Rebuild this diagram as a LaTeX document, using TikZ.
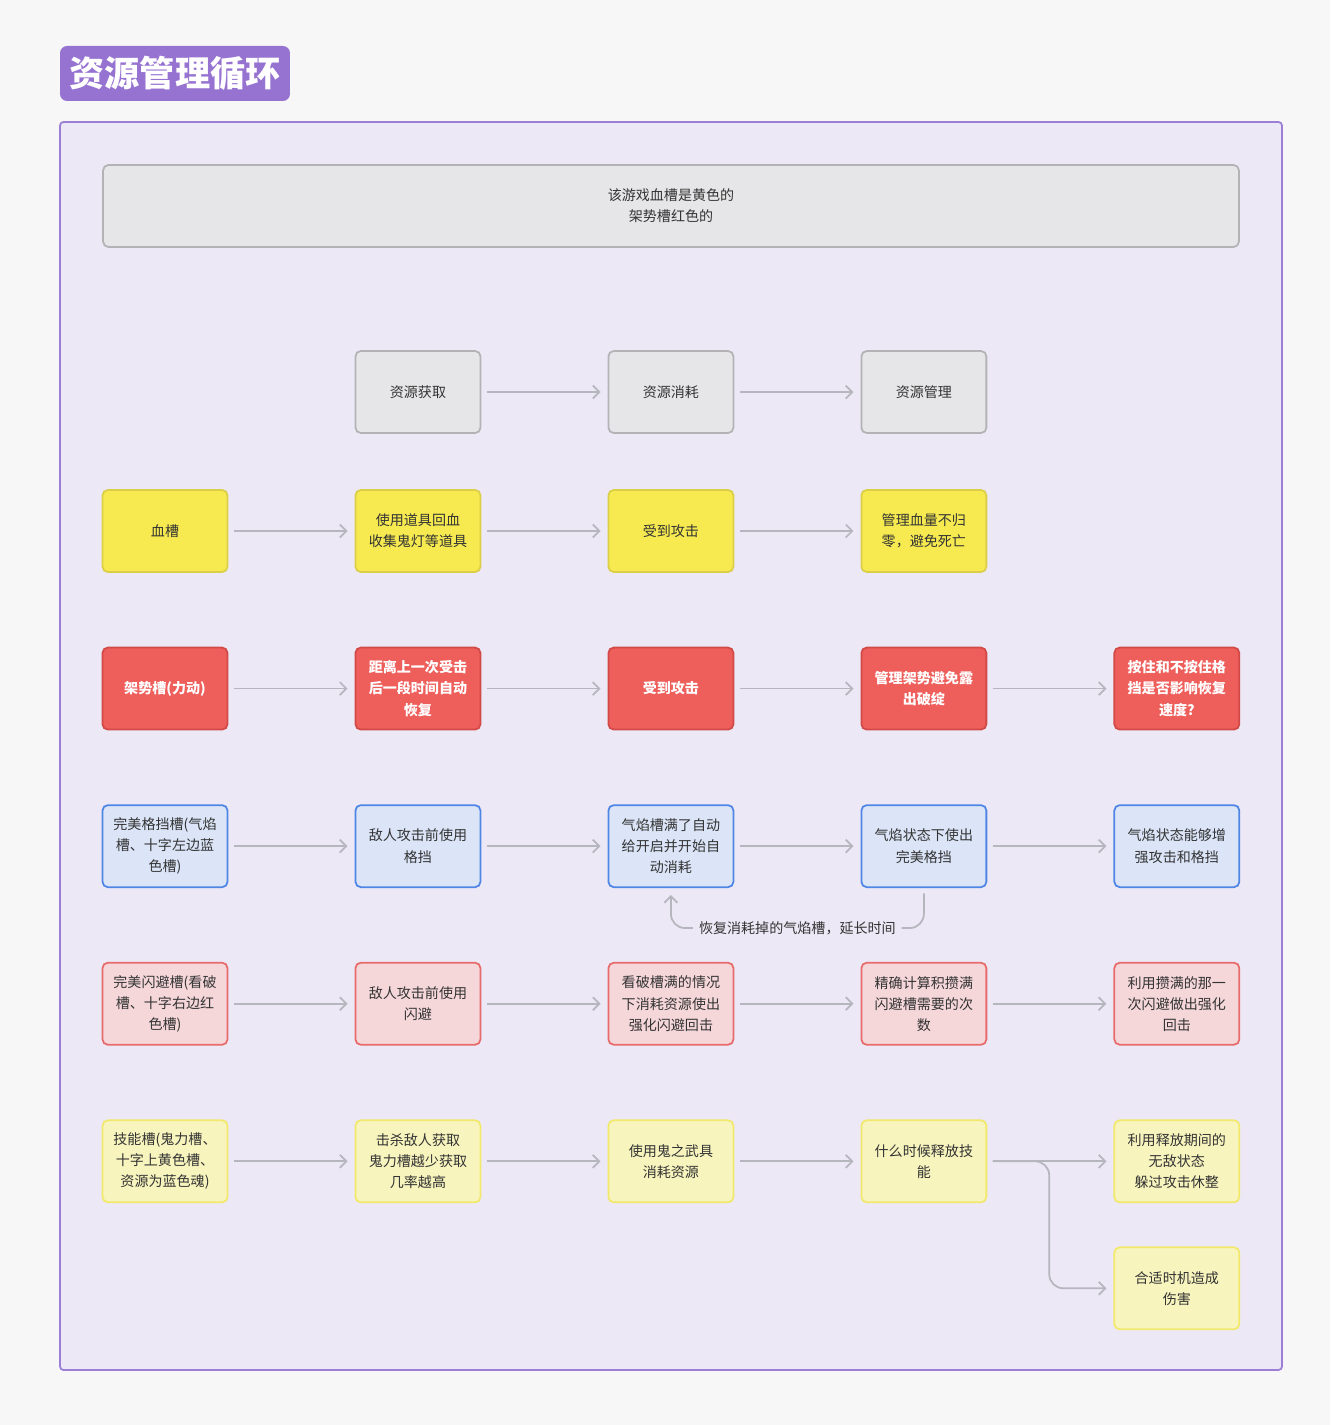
\documentclass[tikz,border=0pt]{standalone}
\usepackage{fontspec}
\setmainfont{Noto Sans CJK SC}
\usetikzlibrary{positioning,arrows.meta}
\definecolor{pagebg}{HTML}{F7F7F7}
\definecolor{framefill}{HTML}{ECE8F5}
\definecolor{framedraw}{HTML}{9B7FD4}
\definecolor{titlefill}{HTML}{9673D1}
\definecolor{greyfill}{HTML}{E6E6E8}
\definecolor{greydraw}{HTML}{B3B3B6}
\definecolor{yelfill}{HTML}{F6EA50}
\definecolor{yeldraw}{HTML}{DCCF48}
\definecolor{redfill}{HTML}{EE5E5A}
\definecolor{reddraw}{HTML}{D24A47}
\definecolor{bluefill}{HTML}{DBE5F7}
\definecolor{bluedraw}{HTML}{4F86E6}
\definecolor{pinkfill}{HTML}{F5D7DA}
\definecolor{pinkdraw}{HTML}{E86B6B}
\definecolor{lyelfill}{HTML}{F7F4BE}
\definecolor{lyeldraw}{HTML}{F2E86B}
\definecolor{linegray}{HTML}{B6B6BE}
\definecolor{textdark}{HTML}{333333}
\begin{document}
\begin{tikzpicture}
      [x=0.02cm, y=-0.02cm, node distance=1.477cm and 2.525cm,
       main node/.style={rectangle, rounded corners=3pt, line width=1pt, minimum width=2.5cm,
         minimum height=1.64cm, align=center, text=textdark, font=\fontsize{8}{12}\selectfont},
       grey node/.style={main node, fill=greyfill, draw=greydraw},
       hp node/.style={main node, fill=yelfill, draw=yeldraw},
       posture node/.style={main node, fill=redfill, draw=reddraw, text=white,
         font=\fontsize{8}{12}\selectfont\bfseries},
       block node/.style={main node, fill=bluefill, draw=bluedraw},
       dodge node/.style={main node, fill=pinkfill, draw=pinkdraw},
       skill node/.style={main node, fill=lyelfill, draw=lyeldraw},
       flow/.style={draw=linegray, line width=1pt, shorten <=3pt, shorten >=4pt,
         -{Straight Barb[length=0.13cm, width=0.26cm]}}]
      \fill[pagebg] (0,0) rectangle (1330,1425);
      \draw[framedraw, fill=framefill, line width=1pt, rounded corners=2pt] (60,122) rectangle (1282,1370);
      \node[fill=titlefill, rounded corners=4pt, minimum width=4.6cm, minimum height=1.1cm,
        text=white, font=\fontsize{20}{24}\selectfont\bfseries] (title) at (175,73.5) {资源管理循环};

      \node[grey node, minimum width=22.72cm] (note) at (671,206) {该游戏血槽是黄色的\\架势槽红色的};

      \node[hp node] (hp1) at (165,531) {血槽};
      \node[hp node, right=of hp1] (hp2) {使用道具回血\\收集鬼灯等道具};
      \node[hp node, right=of hp2] (hp3) {受到攻击};
      \node[hp node, right=of hp3] (hp4) {管理血量不归\\零，避免死亡};

      \node[grey node, above=1.105cm of hp2] (get) {资源获取};
      \node[grey node, above=1.105cm of hp3] (use) {资源消耗};
      \node[grey node, above=1.105cm of hp4] (manage) {资源管理};

      \node[posture node, below=of hp1] (ps1) {架势槽(力动)};
      \node[posture node, right=of ps1] (ps2) {距离上一次受击\\后一段时间自动\\恢复};
      \node[posture node, right=of ps2] (ps3) {受到攻击};
      \node[posture node, right=of ps3] (ps4) {管理架势避免露\\出破绽};
      \node[posture node, right=of ps4] (ps5) {按住和不按住格\\挡是否影响恢复\\速度?};

      \node[block node, below=of ps1] (bl1) {完美格挡槽(气焰\\槽、十字左边蓝\\色槽)};
      \node[block node, right=of bl1] (bl2) {敌人攻击前使用\\格挡};
      \node[block node, right=of bl2] (bl3) {气焰槽满了自动\\给开启并开始自\\动消耗};
      \node[block node, right=of bl3] (bl4) {气焰状态下使出\\完美格挡};
      \node[block node, right=of bl4] (bl5) {气焰状态能够增\\强攻击和格挡};

      \node[dodge node, below=of bl1] (dg1) {完美闪避槽(看破\\槽、十字右边红\\色槽)};
      \node[dodge node, right=of dg1] (dg2) {敌人攻击前使用\\闪避};
      \node[dodge node, right=of dg2] (dg3) {看破槽满的情况\\下消耗资源使出\\强化闪避回击};
      \node[dodge node, right=of dg3] (dg4) {精确计算积攒满\\闪避槽需要的次\\数};
      \node[dodge node, right=of dg4] (dg5) {利用攒满的那一\\次闪避做出强化\\回击};

      \node[skill node, below=of dg1] (sk1) {技能槽(鬼力槽、\\十字上黄色槽、\\资源为蓝色魂)};
      \node[skill node, right=of sk1] (sk2) {击杀敌人获取\\鬼力槽越少获取\\几率越高};
      \node[skill node, right=of sk2] (sk3) {使用鬼之武具\\消耗资源};
      \node[skill node, right=of sk3] (sk4) {什么时候释放技\\能};
      \node[skill node, right=of sk4] (sk5) {利用释放期间的\\无敌状态\\躲过攻击休整};
      \node[skill node, below=0.865cm of sk5] (sk6) {合适时机造成\\伤害};

      \draw[flow] (get) -- (use);
      \draw[flow] (use) -- (manage);
      \draw[flow] (hp1) -- (hp2);
      \draw[flow] (hp2) -- (hp3);
      \draw[flow] (hp3) -- (hp4);
      \draw[flow] (ps1) -- (ps2);
      \draw[flow] (ps2) -- (ps3);
      \draw[flow] (ps3) -- (ps4);
      \draw[flow] (ps4) -- (ps5);
      \draw[flow] (bl1) -- (bl2);
      \draw[flow] (bl2) -- (bl3);
      \draw[flow] (bl3) -- (bl4);
      \draw[flow] (bl4) -- (bl5);
      \draw[flow, rounded corners=8pt] (bl4.south) -- ++(0,40) -| node[pos=0.25, fill=framefill,
        text=textdark, font=\fontsize{8}{12}\selectfont] (refill) {恢复消耗掉的气焰槽，延长时间} (bl3.south);
      \draw[flow] (dg1) -- (dg2);
      \draw[flow] (dg2) -- (dg3);
      \draw[flow] (dg3) -- (dg4);
      \draw[flow] (dg4) -- (dg5);
      \draw[flow] (sk1) -- (sk2);
      \draw[flow] (sk2) -- (sk3);
      \draw[flow] (sk3) -- (sk4);
      \draw[flow] (sk4) -- (sk5);
      \draw[flow, rounded corners=8pt] (sk4.east) -- ++(62,0) |- (sk6.west);
   \end{tikzpicture}
\end{document}
